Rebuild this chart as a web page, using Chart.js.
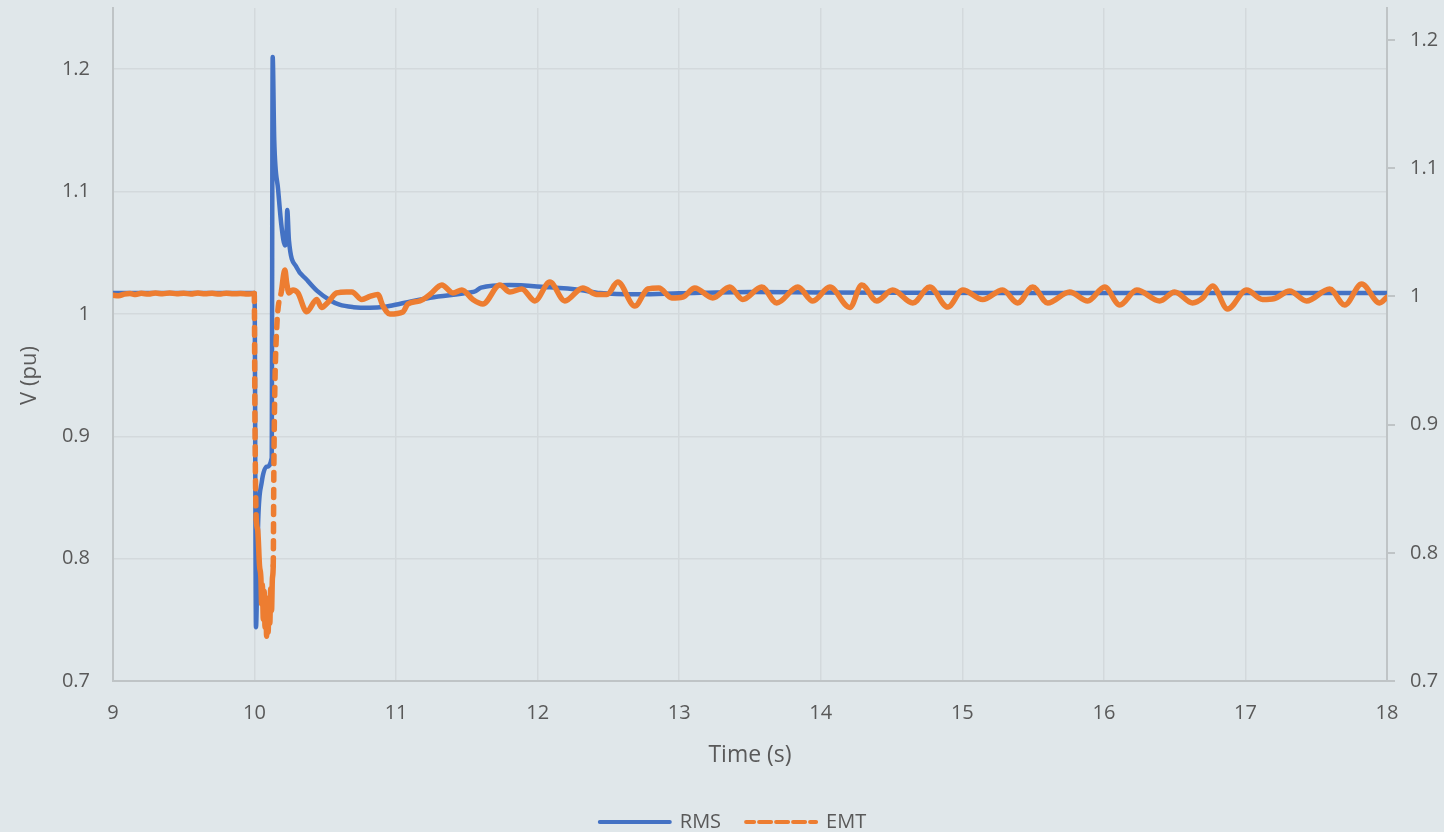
<!DOCTYPE html>
<html>
<head>
<meta charset="utf-8">
<script src="https://cdn.jsdelivr.net/npm/chart.js@4.4.1/dist/chart.umd.min.js"></script>
<style>
  html, body { margin: 0; padding: 0; background: #e0e7ea; overflow: hidden; }
  #wrap { position: relative; width: 1444px; height: 832px; }
</style>
</head>
<body>
<div id="wrap"><canvas id="chart"></canvas></div>
<script>
// Axis tick values
const timeTicks = [9, 10, 11, 12, 13, 14, 15, 16, 17, 18];
const voltTicks = [0.7, 0.8, 0.9, 1.0, 1.1, 1.2];

// RMS simulation (left axis)
const rmsTime = [9.0, 10.0, 10.01, 10.026, 10.05, 10.085, 10.121, 10.128, 10.139, 10.167,
  10.191, 10.215, 10.224, 10.231, 10.243, 10.297, 10.368, 10.44, 10.53, 10.6,
  10.7, 10.815, 10.92, 11.03, 11.24, 11.52, 11.56, 11.6, 11.8, 12.05,
  12.3, 12.44, 12.72, 13.0, 13.5, 14.0, 15.26, 16.0, 17.0, 18.0];
const rmsVolt = [1.017, 1.017, 0.744, 0.832, 0.862, 0.875, 0.882, 1.21, 1.142, 1.101,
  1.071, 1.056, 1.058, 1.085, 1.06, 1.038, 1.028, 1.019, 1.0114, 1.0075,
  1.0055, 1.005, 1.0058, 1.0083, 1.0132, 1.0175, 1.0185, 1.0215, 1.0236, 1.022,
  1.0196, 1.017, 1.016, 1.0168, 1.018, 1.0175, 1.017, 1.017, 1.017, 1.017];

// EMT simulation (right axis)
const emtTime = [9.0, 9.04, 9.08, 9.12, 9.16, 9.2, 9.25, 9.3, 9.35, 9.4,
  9.45, 9.5, 9.55, 9.6, 9.65, 9.7, 9.75, 9.8, 9.85, 9.9,
  9.95, 9.998, 10.003, 10.012, 10.022, 10.035, 10.045, 10.05, 10.055, 10.062,
  10.068, 10.074, 10.08, 10.085, 10.09, 10.096, 10.102, 10.108, 10.114, 10.12,
  10.126, 10.132, 10.136, 10.142, 10.156, 10.191, 10.214, 10.227, 10.243, 10.271,
  10.306, 10.368, 10.439, 10.474, 10.518, 10.58, 10.65, 10.688, 10.758, 10.815,
  10.871, 10.907, 10.956, 11.048, 11.083, 11.168, 11.239, 11.323, 11.401, 11.465,
  11.542, 11.613, 11.733, 11.804, 11.888, 11.98, 12.086, 12.192, 12.319, 12.418,
  12.489, 12.566, 12.686, 12.778, 12.856, 12.948, 13.025, 13.11, 13.237, 13.357,
  13.449, 13.583, 13.689, 13.838, 13.944, 14.064, 14.205, 14.29, 14.395, 14.508,
  14.65, 14.77, 14.897, 15.003, 15.144, 15.285, 15.391, 15.497, 15.603, 15.758,
  15.886, 16.006, 16.112, 16.232, 16.394, 16.5, 16.627, 16.698, 16.768, 16.874,
  17.008, 17.121, 17.206, 17.312, 17.432, 17.595, 17.701, 17.821, 17.948, 18.0];
const emtVolt = [1.001, 1.0005, 1.0018, 1.0022, 1.0015, 1.0024, 1.0019, 1.0026, 1.002, 1.0027,
  1.0021, 1.0025, 1.0019, 1.0026, 1.0021, 1.0024, 1.0018, 1.0025, 1.002, 1.0023,
  1.0018, 1.0022, 0.90, 0.826, 0.818, 0.79, 0.78, 0.76, 0.775, 0.748,
  0.77, 0.742, 0.762, 0.735, 0.758, 0.738, 0.765, 0.745, 0.772, 0.755,
  0.78, 0.79, 0.86, 0.92, 0.974, 1.005, 1.0206, 1.0105, 1.0027, 1.005,
  1.0027, 0.988, 0.9976, 0.9914, 0.9953, 1.0027, 1.0035, 1.0035, 0.9976, 1.0,
  1.0015, 0.9925, 0.9863, 0.9879, 0.9941, 0.9965, 1.0015, 1.0089, 1.0027, 1.005,
  0.9976, 0.9941, 1.0089, 1.0035, 1.0058, 0.9965, 1.0112, 0.9965, 1.0066, 1.0015,
  1.0015, 1.0112, 0.9925, 1.0058, 1.0066, 0.9988, 0.9995, 1.0066, 0.9988, 1.0073,
  0.9976, 1.0073, 0.9949, 1.0073, 0.9964, 1.0073, 0.9914, 1.0089, 0.9965, 1.005,
  0.9949, 1.0073, 0.9917, 1.005, 0.9976, 1.005, 0.9949, 1.0073, 0.9949, 1.0035,
  0.9965, 1.0073, 0.9933, 1.005, 0.9965, 1.0035, 0.9949, 0.9988, 1.0081, 0.9902,
  1.005, 0.9976, 0.9984, 1.0042, 0.9965, 1.0058, 0.9933, 1.0097, 0.9949, 0.9995];

const TEXT = '#595959';
const GRID = '#d3d9dc';
const AXIS = '#bfc4c6';
const FONT = '"Open Sans", "Noto Sans", sans-serif';
const Y_TITLE = 'V (pu)';

Chart.defaults.font.family = FONT;
Chart.defaults.color = TEXT;

const toPoints = (xs, ys) => xs.map((x, i) => ({ x: x, y: ys[i] }));
const fmt = v => String(Number(Number(v).toFixed(2)));
const fixTicks = list => scale => { scale.ticks = list.map(v => ({ value: v })); };
// vertical axes keep a fixed width and ask for no extra room above/below the plot
const fixWidth = w => s => { s.width = w; s.paddingTop = 0; s.paddingBottom = 0; };

// Places the legend row and draws the left axis title a little below the axis middle
const layoutTweaks = {
  id: 'layoutTweaks',
  beforeDraw(chart) {
    const lg = chart.legend;
    if (lg) { lg.left = 11; lg.right = chart.width + 11; }
  },
  afterDraw(chart) {
    const { ctx, chartArea } = chart;
    ctx.save();
    ctx.translate(30, (chartArea.top + chartArea.bottom) / 2 + 31);
    ctx.rotate(-Math.PI / 2);
    ctx.textAlign = 'center';
    ctx.textBaseline = 'middle';
    ctx.fillStyle = TEXT;
    ctx.font = '22px ' + FONT;
    ctx.fillText(Y_TITLE, 0, 0);
    ctx.restore();
  }
};

new Chart(document.getElementById('chart'), {
  type: 'line',
  data: {
    datasets: [
      {
        label: 'RMS',
        data: toPoints(rmsTime, rmsVolt),
        yAxisID: 'y',
        borderColor: '#4472c4',
        backgroundColor: '#4472c4',
        borderWidth: 4.5,
        borderCapStyle: 'round',
        borderJoinStyle: 'round',
        cubicInterpolationMode: 'monotone',
        pointRadius: 0,
        order: 1
      },
      {
        label: 'EMT',
        data: toPoints(emtTime, emtVolt),
        yAxisID: 'y1',
        borderColor: '#ed7d31',
        backgroundColor: '#ed7d31',
        borderWidth: 5.5,
        borderDash: [8, 9],
        borderCapStyle: 'round',
        borderJoinStyle: 'round',
        cubicInterpolationMode: 'monotone',
        pointRadius: 0,
        order: 0,
        // long steep jumps keep the dash, the dense trace is drawn solid
        segment: {
          borderDash: ctx => Math.abs(ctx.p1.y - ctx.p0.y) > 38 ? [8, 9] : []
        }
      }
    ]
  },
  plugins: [layoutTweaks],
  options: {
    responsive: true,
    maintainAspectRatio: false,
    animation: false,
    layout: { padding: { top: 8, bottom: -10, left: 0, right: 0 } },
    plugins: {
      tooltip: { enabled: false },
      legend: {
        position: 'bottom',
        labels: {
          boxWidth: 70,
          boxHeight: 0,
          padding: 25,
          color: TEXT,
          font: { size: 20 },
          sort: (a, b) => a.datasetIndex - b.datasetIndex,
          generateLabels: chart =>
            Chart.defaults.plugins.legend.labels.generateLabels(chart)
              .map(l => Object.assign(l, { lineWidth: 4, lineCap: 'round' }))
        }
      }
    },
    scales: {
      x: {
        type: 'linear',
        min: 9,
        max: 18,
        afterBuildTicks: fixTicks(timeTicks),
        afterFit: s => { s.height = 106; },
        grid: { color: GRID, lineWidth: 1.5, drawTicks: false },
        border: { color: AXIS, width: 2 },
        ticks: { padding: 20, font: { size: 20 }, color: TEXT, callback: v => fmt(v), maxRotation: 0 },
        title: { display: true, text: 'Time (s)', color: TEXT, font: { size: 23 }, padding: { top: 0, bottom: 18 } }
      },
      y: {
        position: 'left',
        min: 0.7,
        max: 1.25,
        afterBuildTicks: fixTicks(voltTicks),
        afterFit: fixWidth(113),
        grid: { color: GRID, lineWidth: 1.5, drawTicks: false },
        border: { color: AXIS, width: 2 },
        ticks: { padding: 23, font: { size: 20 }, color: TEXT, callback: v => fmt(v) }
      },
      y1: {
        position: 'right',
        min: 0.7,
        max: 1.225,
        afterBuildTicks: fixTicks(voltTicks),
        afterFit: fixWidth(57),
        grid: { drawOnChartArea: false, color: AXIS, lineWidth: 2, tickLength: 8 },
        border: { color: AXIS, width: 2 },
        ticks: { padding: 15, font: { size: 20 }, color: TEXT, callback: v => fmt(v) }
      }
    }
  }
});
</script>
</body>
</html>
